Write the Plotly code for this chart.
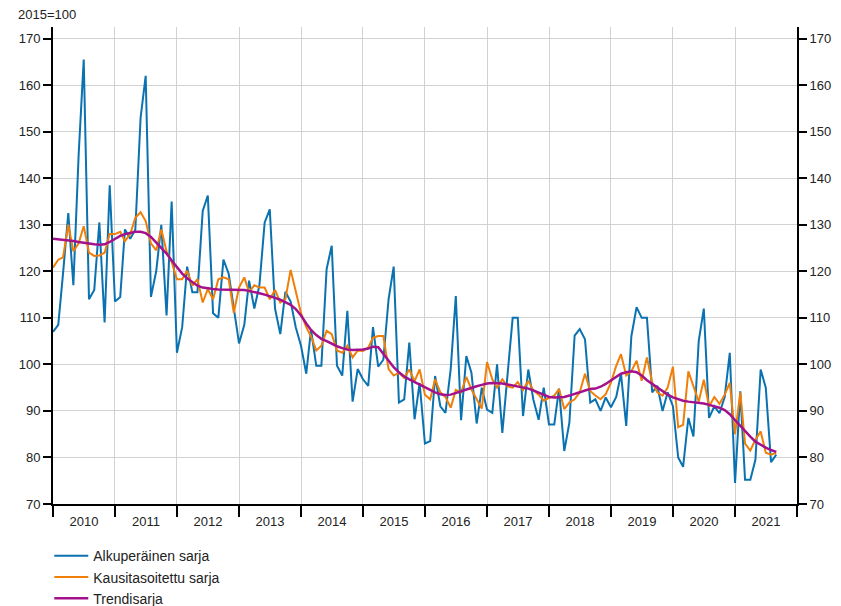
import pandas as pd
import plotly.graph_objects as go

# Monthly data, January 2010 - September 2021 (2015=100)
start_month = "2010-01-01"

alkuperainen = [
    # 2010
    107, 108.5, 119.5, 132.5, 117, 145, 165.5, 114, 116, 130.5, 109, 138.5,
    # 2011
    113.5, 114.5, 129, 127, 129, 153, 162, 114.5, 120, 130, 110.5, 135,
    # 2012
    102.5, 108, 121, 115.5, 115.5, 133, 136.3, 111, 110, 122.5, 119.5, 112,
    # 2013
    104.5, 108.5, 118, 112, 117, 130.5, 133.3, 112, 106.5, 115.6, 113.5, 108,
    # 2014
    104, 98, 107.5, 99.7, 99.7, 120.5, 125.5, 99.7, 97.6, 111.5, 92, 99,
    # 2015
    96.8, 95.4, 108, 99.5, 101, 114, 121, 91.8, 92.5, 104.7, 88.2, 96,
    # 2016
    83, 83.5, 97.5, 91, 89.6, 99, 114.7, 88, 101.8, 98.2, 87.3, 95,
    # 2017
    90.3, 89.6, 100, 85.3, 98, 110, 110, 88.9, 98.9, 92.4, 88.1, 95,
    # 2018
    87.1, 87.1, 94.8, 81.4, 87.5, 106.2, 107.6, 105.4, 91.8, 92.5, 90, 92.9,
    # 2019
    90.8, 93, 98, 86.8, 106, 112.3, 110, 110, 94, 95.4, 90, 94,
    # 2020
    91, 80, 78, 88.5, 84.5, 105, 112, 88.5, 91, 89.5, 93, 102.5,
    # 2021
    74.5, 94.2, 75.2, 75.2, 79.5, 98.9, 95, 79, 80.6,
]

kausitasoitettu = [
    # 2010
    120.8, 122.5, 123, 130, 124.3, 126, 129.7, 124, 123.3, 123.4, 124, 128,
    # 2011
    128, 128.5, 126.5, 128, 131.5, 132.7, 130.8, 126, 124.5, 129, 124.3, 122,
    # 2012
    118.3, 118.3, 120.1, 116.9, 118.3, 113.3, 116.2, 114, 118.3, 118.7, 118.3, 111.1,
    # 2013
    116.5, 118.7, 115.5, 117, 116.5, 116.5, 114, 116, 113.3, 114, 120.3, 115.5,
    # 2014
    111, 108, 106, 103, 104, 107.2, 106.5, 103, 102.5, 104, 101.5, 103,
    # 2015
    102.9, 103.6, 105.7, 106.1, 106.1, 99, 97.6, 98.2, 97.1, 98.9, 96.4, 98.9,
    # 2016
    93.5, 92.5, 96.8, 94, 93, 90.7, 94.5, 94, 97.3, 94.6, 92.5, 90.5,
    # 2017
    100.5, 96.8, 95, 96.8, 95.3, 95, 96.2, 94.5, 96.5, 94.4, 93.5, 92.2,
    # 2018
    92.8, 93.3, 94.7, 90.4, 91.8, 92.5, 94, 98, 94.3, 93.3, 92.5, 93.6,
    # 2019
    96.1, 99.7, 102.2, 97.6, 98.5, 100.8, 96.5, 101.5, 96.1, 94, 93.3, 95,
    # 2020
    99.5, 86.5, 87, 98.5, 95.3, 92, 96.7, 91, 93, 91.5, 93.5, 96,
    # 2021
    85, 94, 83, 81.5, 83.8, 85.6, 81, 80.6, 81,
]

trendi = [
    # 2010
    127.0, 126.9, 126.8, 126.7, 126.5, 126.3, 126.1, 125.9, 125.8, 125.7, 125.8, 126.3,
    # 2011
    127.0, 127.6, 128.0, 128.3, 128.5, 128.5, 128.2, 127.4, 126.2, 125.0, 123.8, 122.3,
    # 2012
    120.9, 119.5, 118.5, 117.6, 116.9, 116.5, 116.3, 116.2, 116.1, 116.1, 116.1, 116.1,
    # 2013
    116.1, 116.0, 115.8, 115.6, 115.3, 115.0, 114.7, 114.3, 113.9, 113.4, 112.8, 111.9,
    # 2014
    110.5, 108.8, 107.4, 106.3, 105.5, 105.0, 104.4, 103.9, 103.5, 103.2, 103.1, 103.1,
    # 2015
    103.2, 103.4, 103.8, 103.7, 102.3, 100.6, 99.4, 98.3, 97.4, 96.8, 96.2, 95.8,
    # 2016
    95.2, 94.6, 94.0, 93.6, 93.4, 93.5, 93.8, 94.2, 94.6, 95.0, 95.3, 95.6,
    # 2017
    95.9, 96.0, 96.0, 95.9, 95.7, 95.5, 95.3, 95.1, 94.8, 94.4, 93.9, 93.4,
    # 2018
    93.0, 92.9, 92.9, 93.0, 93.3, 93.6, 94.0, 94.4, 94.7, 94.8, 95.2, 95.8,
    # 2019
    96.6, 97.4, 98.0, 98.3, 98.5, 98.3, 97.6, 96.6, 95.8, 95.0, 94.3, 93.5,
    # 2020
    92.9, 92.5, 92.2, 92.0, 91.9, 91.8, 91.6, 91.3, 91.0, 90.7, 90.2, 89.3,
    # 2021
    88.0, 86.8, 85.5, 84.5, 83.4, 82.7, 82.1, 81.6, 81.2,
]

series_names = ["Alkuperäinen sarja", "Kausitasoitettu sarja", "Trendisarja"]
series_colors = ["#0a72b0", "#f07f09", "#a3128c"]
y_ticks = [70, 80, 90, 100, 110, 120, 130, 140, 150, 160, 170]

months = pd.date_range(start_month, periods=len(alkuperainen), freq="MS")

fig = go.Figure()
for name, vals, col, w in zip(series_names,
                              [alkuperainen, kausitasoitettu, trendi],
                              series_colors, [2, 2, 2.5]):
    fig.add_trace(go.Scatter(x=months, y=vals, name=name, mode="lines",
                             line=dict(color=col, width=w)))

# invisible trace to anchor the right-hand axis and the year tick axis
fig.add_trace(go.Scatter(x=months, y=trendi, xaxis="x2", yaxis="y2", mode="lines",
                         line=dict(width=0, color="rgba(0,0,0,0)"),
                         showlegend=False, hoverinfo="skip"))

axis_font = dict(family="Liberation Sans, Arial, sans-serif", size=13, color="#222")
x_range = ["2010-01-01", "2022-01-01"]

# the page body adds an 8 px offset; the figure is made tall enough that the
# legend fits inside it (so it does not push the plot area)
fig.update_layout(
    width=833, height=640,
    margin=dict(l=45, r=44, t=19, b=144),
    plot_bgcolor="white", paper_bgcolor="white",
    font=axis_font,
    showlegend=True,
    legend=dict(orientation="v", x=-0.005, xanchor="left", y=-0.076, yanchor="top",
                font=dict(family="Liberation Sans, Arial, sans-serif", size=14,
                          color="#222"),
                itemwidth=34,
                bgcolor="rgba(0,0,0,0)", tracegroupgap=0),
    xaxis=dict(type="date", range=x_range,
               dtick="M12", tick0="2010-01-01", tickformat="%Y",
               ticklabelmode="period", ticks="", ticklabelstandoff=4,
               showgrid=True, gridcolor="#d2d2d2", gridwidth=1,
               showline=True, linecolor="black", linewidth=2,
               tickfont=axis_font, zeroline=False, automargin=False),
    xaxis2=dict(type="date", range=x_range, overlaying="x", anchor="y",
                side="bottom", dtick="M12", tick0="2010-01-01",
                ticks="outside", ticklen=12, tickcolor="black", tickwidth=1.5,
                showticklabels=False, showgrid=False, showline=False,
                zeroline=False, automargin=False),
    yaxis=dict(range=[70, 172.5], tickvals=y_ticks, ticks="outside", ticklen=8,
               tickcolor="black", tickwidth=1.5,
               showgrid=True, gridcolor="#d2d2d2", gridwidth=1,
               showline=True, linecolor="black", linewidth=2,
               tickfont=axis_font, zeroline=False, automargin=False),
    yaxis2=dict(range=[70, 172.5], tickvals=y_ticks, overlaying="y", side="right",
                anchor="x", ticklabelstandoff=0,
                ticks="outside", ticklen=8, tickcolor="black", tickwidth=1.5,
                showgrid=False, showline=True, linecolor="black", linewidth=2,
                tickfont=axis_font, zeroline=False, automargin=False),
    annotations=[dict(text="2015=100", xref="paper", yref="paper",
                      x=-0.05, y=1.027, xanchor="left", yanchor="middle",
                      showarrow=False, font=axis_font)],
)

fig.write_html("out.html")
